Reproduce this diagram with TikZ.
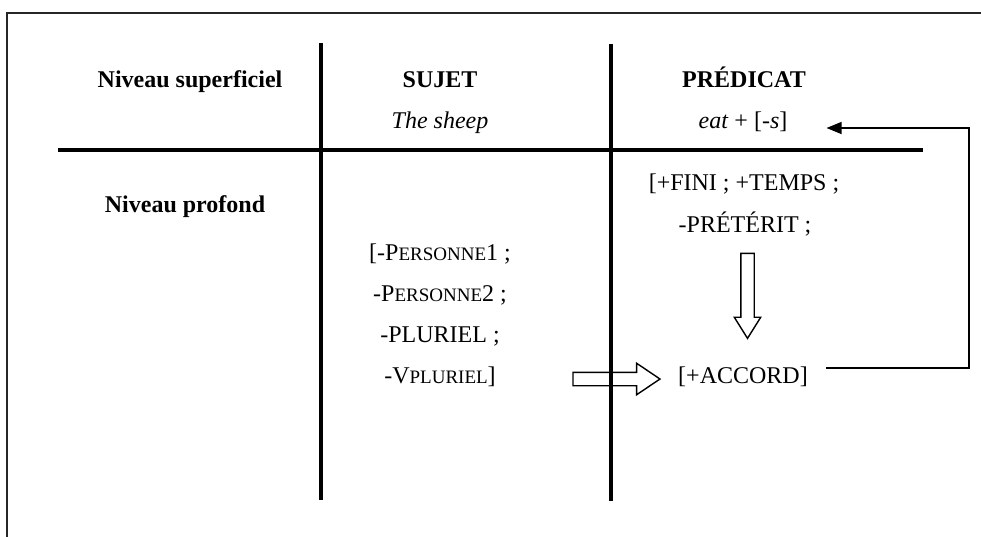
\documentclass[tikz,border=0pt]{standalone}
\usepackage{fontspec}
\setmainfont{Liberation Serif}
\usepackage{tikz}
\usetikzlibrary{positioning,calc,arrows.meta,shapes.arrows}

% petites capitales imitees (Liberation Serif n'en a pas)
\newcommand\petitcap[1]{{\fontsize{19}{19}\selectfont #1}}

\begin{document}
\begin{tikzpicture}[x=1pt,y=-1pt,>={Triangle[length=15pt,width=12pt]},
  every node/.style={font=\fontsize{24}{29}\selectfont,inner sep=0pt,anchor=base},
  titre/.style={font=\fontsize{24}{29}\selectfont\bfseries},
  trait/.style={line width=3.5pt},
  fleche/.style={single arrow,draw,line width=1.4pt,inner xsep=0pt,inner ysep=6pt,
    anchor=center,minimum height=#1},
  retour/.style={->,line width=1.3pt}]
  \useasboundingbox (0,0) rectangle (981,536);
  \clip (0,0) rectangle (981,536);
  \draw[line width=1.4pt,black!85] (7,13) rectangle (1000,560);
  % table lines
  \draw[trait] (58,150) -- (923,150);
  \draw[trait] (321,43) -- (321,500);
  \draw[trait] (611,44) -- (611,501);
  % niveau superficiel
  \node[titre] (nivsup) at (190,87) {Niveau superficiel};
  \node[titre] (sujet) at (440,87) {SUJET};
  \node[titre] (predicat) at (744,87) {PRÉDICAT};
  \node (sheep) at (440,128) {\textit{The sheep}};
  \node (eat) at (743,128) {\textit{eat} + [-\textit{s}]};
  % niveau profond
  \node[titre] (nivprof) at (185,212) {Niveau profond};
  \node (fini) at (744,190) {[+FINI ; +TEMPS ;};
  \node (preterit) at (745,232) {-PRÉTÉRIT ;};
  \node (pers1) at (440,260) {[-P\petitcap{ERSONNE}1 ;};
  \node (pers2) at (440,301) {-P\petitcap{ERSONNE}2 ;};
  \node (pluriel) at (440,342) {-PLURIEL ;};
  \node (vpluriel) at (440,383) {-V\petitcap{PLURIEL}]};
  \node (accord) at (743,383) {[+ACCORD]};
  % fleches creuses
  \node[fleche=85pt,rotate=-90,single arrow head extend=6.5pt,single arrow tip angle=64]
    (descente) at (747.5,290.5) {};
  \node[fleche=87pt,single arrow head extend=9pt,single arrow tip angle=68]
    (accordfl) at (611.5,379) {};
  % retour vers la surface
  \coordinate (bas) at (969,368);
  \coordinate (haut) at (969,128);
  \draw[retour] ($(accord.east |- bas)+(18,0)$) -- (bas) -- (haut)
    -- ($(eat.east |- haut)+(39,0)$);
\end{tikzpicture}
\end{document}
